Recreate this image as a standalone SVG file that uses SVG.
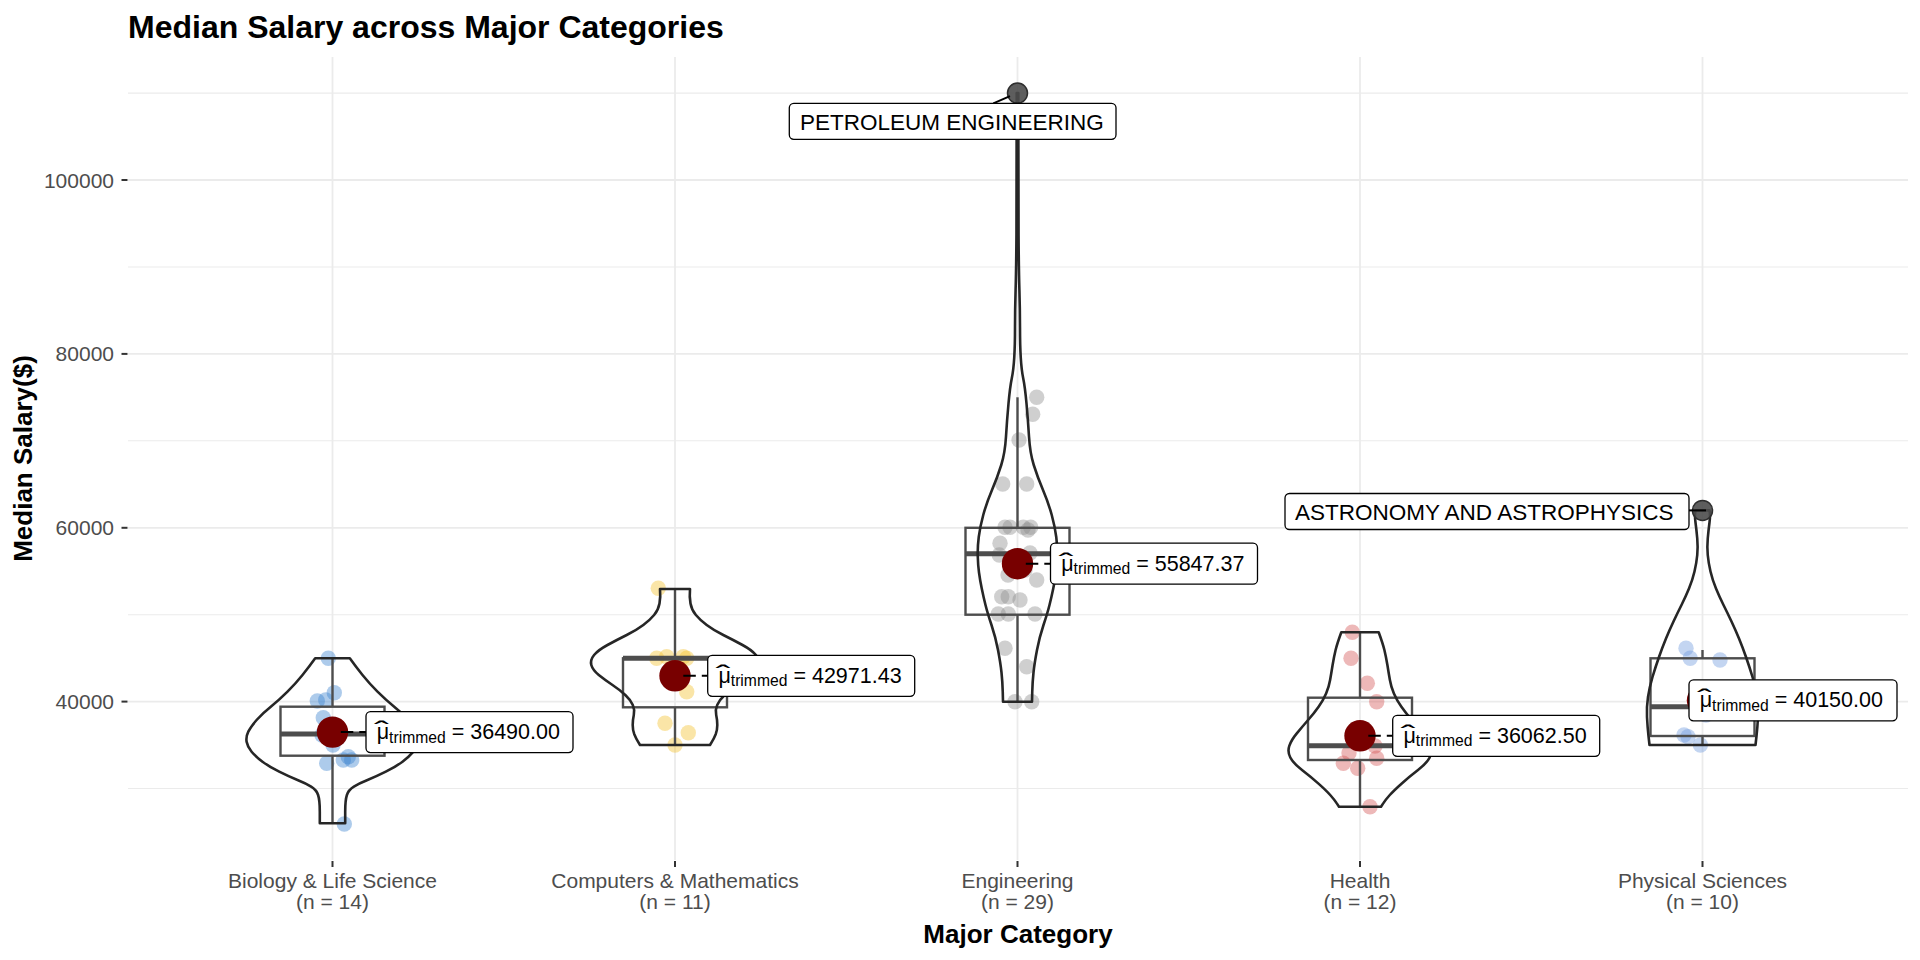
<svg xmlns="http://www.w3.org/2000/svg" width="1920" height="960" viewBox="0 0 1920 960">
<style>
.bg{fill:#ffffff}
.gmaj{stroke:#ebebeb;stroke-width:1.8;fill:none}
.gmin{stroke:#ebebeb;stroke-width:1.1;fill:none}
.tick{stroke:#333333;stroke-width:2}
.axt{font-family:"Liberation Sans",Arial,sans-serif;font-size:21px;fill:#4d4d4d}
.ttl{font-family:"Liberation Sans",Arial,sans-serif;font-weight:bold;fill:#000000}
.violin{fill:none;stroke:#262626;stroke-width:2.6;stroke-linejoin:round}
.box{fill:none;stroke:#4d4d4d;stroke-width:2.4}
.med{stroke:#4d4d4d;stroke-width:5}
.wh{stroke:#4d4d4d;stroke-width:2.4}
.mean{fill:#780000}
.outl{fill:#4d4d4d;fill-opacity:0.9;stroke:#2e2e2e;stroke-width:1.5}
.p-bio{fill:#3b82d0;fill-opacity:0.42}
.p-cmp{fill:#f2c12e;fill-opacity:0.42}
.p-eng{fill:#8c8c8c;fill-opacity:0.42}
.p-hea{fill:#d45656;fill-opacity:0.42}
.p-phy{fill:#6f9bde;fill-opacity:0.42}
.dash{stroke:#000000;stroke-width:2;stroke-dasharray:12.5 6;fill:none}
.seg{stroke:#000000;stroke-width:2;fill:none}
.lbox{fill:#ffffff;stroke:#000000;stroke-width:1.3}
.lbl{font-family:"Liberation Sans",Arial,sans-serif;font-size:21.5px;fill:#000000}
.sub{font-size:15.7px}
.hat{font-family:"Liberation Sans",Arial,sans-serif;font-size:26px;fill:#000000;text-anchor:middle}
.rl{font-family:"Liberation Sans",Arial,sans-serif;font-size:22.5px;fill:#000000}
</style>
<defs>
<circle id="pt" r="7.7"/>
</defs>
<rect class="bg" x="0" y="0" width="1920" height="960"/>

<g id="title">
<text class="ttl" x="128" y="37.5" font-size="32">Median Salary across Major Categories</text>
</g>

<g id="grid">
<line class="gmin" x1="128" y1="93.1" x2="1908" y2="93.1"/>
<line class="gmin" x1="128" y1="267" x2="1908" y2="267"/>
<line class="gmin" x1="128" y1="440.8" x2="1908" y2="440.8"/>
<line class="gmin" x1="128" y1="614.7" x2="1908" y2="614.7"/>
<line class="gmin" x1="128" y1="788.5" x2="1908" y2="788.5"/>
<line class="gmaj" x1="128" y1="180" x2="1908" y2="180"/>
<line class="gmaj" x1="128" y1="353.9" x2="1908" y2="353.9"/>
<line class="gmaj" x1="128" y1="527.8" x2="1908" y2="527.8"/>
<line class="gmaj" x1="128" y1="701.6" x2="1908" y2="701.6"/>
<line class="gmaj" x1="332.5" y1="57" x2="332.5" y2="860"/>
<line class="gmaj" x1="675" y1="57" x2="675" y2="860"/>
<line class="gmaj" x1="1017.5" y1="57" x2="1017.5" y2="860"/>
<line class="gmaj" x1="1360" y1="57" x2="1360" y2="860"/>
<line class="gmaj" x1="1702.5" y1="57" x2="1702.5" y2="860"/>
</g>

<g id="y-axis">
<line class="tick" x1="121.5" y1="180" x2="127.5" y2="180"/>
<line class="tick" x1="121.5" y1="353.9" x2="127.5" y2="353.9"/>
<line class="tick" x1="121.5" y1="527.8" x2="127.5" y2="527.8"/>
<line class="tick" x1="121.5" y1="701.6" x2="127.5" y2="701.6"/>
<text class="axt" x="114" y="187.5" text-anchor="end">100000</text>
<text class="axt" x="114" y="361.4" text-anchor="end">80000</text>
<text class="axt" x="114" y="535.3" text-anchor="end">60000</text>
<text class="axt" x="114" y="709.1" text-anchor="end">40000</text>
<text class="ttl" font-size="26" text-anchor="middle" transform="translate(32,458.5) rotate(-90)">Median Salary($)</text>
</g>

<g id="x-axis">
<line class="tick" x1="332.5" y1="861" x2="332.5" y2="867"/>
<line class="tick" x1="675" y1="861" x2="675" y2="867"/>
<line class="tick" x1="1017.5" y1="861" x2="1017.5" y2="867"/>
<line class="tick" x1="1360" y1="861" x2="1360" y2="867"/>
<line class="tick" x1="1702.5" y1="861" x2="1702.5" y2="867"/>
<text class="axt" text-anchor="middle" x="332.5" y="888.3">Biology &amp; Life Science</text>
<text class="axt" text-anchor="middle" x="332.5" y="908.5">(n = 14)</text>
<text class="axt" text-anchor="middle" x="675" y="888.3">Computers &amp; Mathematics</text>
<text class="axt" text-anchor="middle" x="675" y="908.5">(n = 11)</text>
<text class="axt" text-anchor="middle" x="1017.5" y="888.3">Engineering</text>
<text class="axt" text-anchor="middle" x="1017.5" y="908.5">(n = 29)</text>
<text class="axt" text-anchor="middle" x="1360" y="888.3">Health</text>
<text class="axt" text-anchor="middle" x="1360" y="908.5">(n = 12)</text>
<text class="axt" text-anchor="middle" x="1702.5" y="888.3">Physical Sciences</text>
<text class="axt" text-anchor="middle" x="1702.5" y="908.5">(n = 10)</text>
<text class="ttl" font-size="26" text-anchor="middle" x="1018" y="943">Major Category</text>
</g>

<g id="cat-biology">
<g class="p-bio">
<use href="#pt" x="328.3" y="658.3"/><use href="#pt" x="334.3" y="692.7"/><use href="#pt" x="317.3" y="701"/><use href="#pt" x="325.7" y="700"/>
<use href="#pt" x="323.3" y="717.7"/><use href="#pt" x="326.7" y="763.3"/><use href="#pt" x="343.3" y="760"/><use href="#pt" x="351.7" y="760"/>
<use href="#pt" x="348.3" y="756.7"/><use href="#pt" x="344.3" y="824"/><use href="#pt" x="333" y="745"/><use href="#pt" x="329" y="728"/>
<use href="#pt" x="338" y="738"/><use href="#pt" x="322" y="735"/>
</g>
<line class="wh" x1="332.5" y1="658.3" x2="332.5" y2="706.7"/>
<line class="wh" x1="332.5" y1="755.7" x2="332.5" y2="823.3"/>
<rect class="box" x="280.5" y="706.7" width="104" height="49"/>
<line class="med" x1="280.5" y1="734" x2="384.5" y2="734"/>
<path class="violin" transform="translate(332.5,0)" d="M-17.3,658.3 Q-23.3,666.7 -30,675 Q-36.7,683.3 -45,691.7 Q-53.3,700 -61.7,706.7 Q-70,713.3 -75.9,720 Q-81.7,726.7 -84.2,731.7 Q-86.7,736.7 -85.9,741.7 Q-85,746.7 -80.9,751.7 Q-76.7,756.7 -70,761.7 Q-63.3,766.7 -53.3,771.7 Q-43.3,776.7 -35,780 Q-26.7,783.3 -21.4,786.7 Q-16,790 -14.4,795 Q-12.7,800 -12.7,811.7 L-12.7,823.3 L12.7,823.3 L12.7,811.7 Q12.7,800 14.4,795 Q16,790 21.4,786.7 Q26.7,783.3 35,780 Q43.3,776.7 53.3,771.7 Q63.3,766.7 70,761.7 Q76.7,756.7 80.9,751.7 Q85,746.7 85.9,741.7 Q86.7,736.7 84.2,731.7 Q81.7,726.7 75.9,720 Q70,713.3 61.7,706.7 Q53.3,700 45,691.7 Q36.7,683.3 30,675 Q23.3,666.7 17.3,658.3 Z"/>
<circle class="mean" cx="332.5" cy="732.1" r="15.7"/>
</g>

<g id="cat-computers">
<g class="p-cmp">
<use href="#pt" x="658.3" y="588.3"/><use href="#pt" x="656.7" y="658.3"/><use href="#pt" x="666.7" y="656.7"/><use href="#pt" x="683.3" y="656.7"/>
<use href="#pt" x="686.7" y="658.3"/><use href="#pt" x="686.7" y="691.7"/><use href="#pt" x="665" y="723.3"/><use href="#pt" x="688.3" y="732.7"/>
<use href="#pt" x="675" y="745"/><use href="#pt" x="672" y="670"/><use href="#pt" x="680" y="682"/>
</g>
<line class="wh" x1="675" y1="589" x2="675" y2="658.3"/>
<line class="wh" x1="675" y1="707.3" x2="675" y2="745"/>
<rect class="box" x="623" y="658.3" width="104" height="49"/>
<line class="med" x1="623" y1="658.3" x2="727" y2="658.3"/>
<path class="violin" transform="translate(675,0)" d="M-15,589 Q-14.3,596.7 -15.5,603.4 Q-16.7,610 -20.9,615 Q-25,620 -31.7,625 Q-38.3,630 -48.3,635 Q-58.3,640 -67.5,645 Q-76.7,650 -80.9,655 Q-85,660 -83.7,665 Q-82.3,670 -76.2,675 Q-70,680 -62.5,685 Q-55,690 -49.7,695 Q-44.3,700 -42.2,705 Q-40,710 -41.2,715 Q-42.3,720 -42.3,725 Q-42.3,730 -40.7,734.2 Q-39,738.3 -37,741.7 L-35,745 L35,745 L37,741.7 Q39,738.3 40.7,734.2 Q42.3,730 42.3,725 Q42.3,720 41.2,715 Q40,710 42.2,705 Q44.3,700 49.7,695 Q55,690 62.5,685 Q70,680 76.2,675 Q82.3,670 83.7,665 Q85,660 80.9,655 Q76.7,650 67.5,645 Q58.3,640 48.3,635 Q38.3,630 31.7,625 Q25,620 20.9,615 Q16.7,610 15.5,603.4 Q14.3,596.7 15,589 Z"/>
<circle class="mean" cx="675" cy="675.8" r="15.7"/>
</g>

<g id="cat-engineering">
<g class="p-eng">
<use href="#pt" x="1036.7" y="397.3"/><use href="#pt" x="1032.7" y="414.3"/><use href="#pt" x="1019" y="440"/><use href="#pt" x="1002.7" y="484"/>
<use href="#pt" x="1026.7" y="484"/><use href="#pt" x="1005" y="527.3"/><use href="#pt" x="1010" y="527.3"/><use href="#pt" x="1023.3" y="527.3"/>
<use href="#pt" x="1030.7" y="527.3"/><use href="#pt" x="1000" y="543.3"/><use href="#pt" x="999.3" y="555"/><use href="#pt" x="1036.7" y="580"/>
<use href="#pt" x="1001.7" y="596.7"/><use href="#pt" x="1008.3" y="596.7"/><use href="#pt" x="998.3" y="614"/><use href="#pt" x="1008.3" y="614"/>
<use href="#pt" x="1035" y="614"/><use href="#pt" x="1005" y="648.3"/><use href="#pt" x="1026.7" y="666.7"/><use href="#pt" x="1015" y="701.7"/>
<use href="#pt" x="1031.7" y="701.7"/><use href="#pt" x="1012" y="560"/><use href="#pt" x="1025" y="570"/><use href="#pt" x="1030" y="553"/>
<use href="#pt" x="1008" y="575"/><use href="#pt" x="1020" y="600"/><use href="#pt" x="1028" y="530"/>
</g>
<line class="wh" x1="1017.5" y1="397.3" x2="1017.5" y2="527.8"/>
<line class="wh" x1="1017.5" y1="614.7" x2="1017.5" y2="701.6"/>
<rect class="box" x="965.5" y="527.8" width="104" height="86.9"/>
<line class="med" x1="965.5" y1="553.7" x2="1069.5" y2="553.7"/>
<path class="violin" transform="translate(1017.5,0)" d="M-0.8,93.1 Q-0.8,200 -1.05,235 Q-1.3,270 -1.9,290 Q-2.5,310 -2.5,327.5 Q-2.5,345 -3.25,357.5 Q-4,370 -5.75,378.5 Q-7.5,387 -9,403.5 Q-10.5,420 -11.5,436.5 Q-12.5,453 -16.25,465 Q-20,477 -25.5,490 Q-31,503 -34.25,515 Q-37.5,527 -38.75,537 Q-40,547 -39.75,556 Q-39.5,565 -38.5,572.5 Q-37.5,580 -35.75,588.5 Q-34,597 -32,605 Q-30,613 -26,625 Q-22,637 -19.5,650 Q-17,663 -16,672.5 Q-15,682 -14.75,691.9 L-14.5,701.7 L14.5,701.7 L14.75,691.9 Q15,682 16,672.5 Q17,663 19.5,650 Q22,637 26,625 Q30,613 32,605 Q34,597 35.75,588.5 Q37.5,580 38.5,572.5 Q39.5,565 39.75,556 Q40,547 38.75,537 Q37.5,527 34.25,515 Q31,503 25.5,490 Q20,477 16.25,465 Q12.5,453 11.5,436.5 Q10.5,420 9,403.5 Q7.5,387 5.75,378.5 Q4,370 3.25,357.5 Q2.5,345 2.5,327.5 Q2.5,310 1.9,290 Q1.3,270 1.05,235 Q0.8,200 0.8,93.1 Z"/>
<circle class="outl" cx="1017.5" cy="93.1" r="10"/>
<circle class="mean" cx="1017.5" cy="563.7" r="15.7"/>
</g>

<g id="cat-health">
<g class="p-hea">
<use href="#pt" x="1352.3" y="632.3"/><use href="#pt" x="1351" y="658.3"/><use href="#pt" x="1367.3" y="683.3"/><use href="#pt" x="1376.7" y="701.7"/>
<use href="#pt" x="1375" y="746"/><use href="#pt" x="1376.7" y="758.3"/><use href="#pt" x="1343.3" y="763.3"/><use href="#pt" x="1357.7" y="768.3"/>
<use href="#pt" x="1370" y="806.7"/><use href="#pt" x="1349" y="753"/><use href="#pt" x="1365" y="740"/><use href="#pt" x="1355" y="730"/>
</g>
<line class="wh" x1="1360" y1="632.3" x2="1360" y2="697.7"/>
<line class="wh" x1="1360" y1="760" x2="1360" y2="806.7"/>
<rect class="box" x="1308" y="697.7" width="104" height="62.3"/>
<line class="med" x1="1308" y1="745.7" x2="1412" y2="745.7"/>
<path class="violin" transform="translate(1360,0)" d="M-18.7,632.3 Q-22.7,643.3 -24.4,650 Q-26,656.7 -27.4,665 Q-28.7,673.3 -29.9,680 Q-31,686.7 -33.9,693.4 Q-36.7,700 -41.4,706.7 Q-46,713.3 -51.9,720 Q-57.7,726.7 -63.2,733.4 Q-68.7,740 -70.7,745.9 Q-72.7,751.7 -69.7,757.5 Q-66.7,763.3 -58,770 Q-49.3,776.7 -41.8,783.4 Q-34.3,790 -29.8,795 Q-25.3,800 -23.2,803.4 L-21,806.7 L21,806.7 L23.2,803.4 Q25.3,800 29.8,795 Q34.3,790 41.8,783.4 Q49.3,776.7 58,770 Q66.7,763.3 69.7,757.5 Q72.7,751.7 70.7,745.9 Q68.7,740 63.2,733.4 Q57.7,726.7 51.9,720 Q46,713.3 41.4,706.7 Q36.7,700 33.9,693.4 Q31,686.7 29.9,680 Q28.7,673.3 27.4,665 Q26,656.7 24.4,650 Q22.7,643.3 18.7,632.3 Z"/>
<circle class="mean" cx="1360" cy="735.8" r="15.7"/>
</g>

<g id="cat-physical">
<g class="p-phy">
<use href="#pt" x="1686" y="648.3"/><use href="#pt" x="1690.2" y="658.3"/><use href="#pt" x="1720" y="660"/><use href="#pt" x="1684" y="735"/>
<use href="#pt" x="1700.4" y="745"/><use href="#pt" x="1688" y="736.7"/><use href="#pt" x="1712" y="690"/><use href="#pt" x="1695" y="700"/>
<use href="#pt" x="1706" y="715"/>
</g>
<line class="wh" x1="1702.5" y1="650" x2="1702.5" y2="658.3"/>
<line class="wh" x1="1702.5" y1="736" x2="1702.5" y2="745"/>
<rect class="box" x="1650.5" y="658.3" width="104" height="77.7"/>
<line class="med" x1="1650.5" y1="706.7" x2="1754.5" y2="706.7"/>
<path class="violin" transform="translate(1702.5,0)" d="M-7,510.4 Q-8,515 -7,522.5 Q-6,530 -5.25,538.5 Q-4.5,547 -5.25,555 Q-6,563 -8,571.5 Q-10,580 -13.5,588.5 Q-17,597 -21,605 Q-25,613 -29,621.5 Q-33,630 -36.5,638.5 Q-40,647 -43.5,657 Q-47,667 -50,677 Q-53,687 -54.5,697 Q-56,707 -55.5,717 Q-55,727 -54,736 L-53,745 L53,745 L54,736 Q55,727 55.5,717 Q56,707 54.5,697 Q53,687 50,677 Q47,667 43.5,657 Q40,647 36.5,638.5 Q33,630 29,621.5 Q25,613 21,605 Q17,597 13.5,588.5 Q10,580 8,571.5 Q6,563 5.25,555 Q4.5,547 5.25,538.5 Q6,530 7,522.5 Q8,515 7,510.4 Z"/>
<circle class="outl" cx="1702.5" cy="510.4" r="10"/>
<circle class="mean" cx="1702.5" cy="700.3" r="15.7"/>
</g>

<g id="connectors">
<line class="dash" x1="340.8" y1="732.1" x2="366" y2="732.1"/>
<line class="dash" x1="683.3" y1="675.8" x2="707.7" y2="675.8"/>
<line class="dash" x1="1025.8" y1="563.7" x2="1050.5" y2="563.7"/>
<line class="dash" x1="1368.3" y1="735.8" x2="1392.7" y2="735.8"/>
<line class="seg" x1="993.3" y1="103.3" x2="1010" y2="96.2"/>
<line class="seg" x1="1689" y1="510.4" x2="1706" y2="510.4"/>
</g>

<g id="label-biology" transform="translate(366,711.6)">
<rect class="lbox" x="0" y="0" width="207" height="41" rx="4.5"/>
<text class="lbl" x="10.7" y="27.7">μ<tspan class="sub" dy="3.4">trimmed</tspan><tspan dy="-3.4"> = 36490.00</tspan></text>
<text class="hat" transform="translate(15.5,27.4) scale(1.7,1)">ˆ</text>
</g>
<g id="label-computers" transform="translate(707.7,655.3)">
<rect class="lbox" x="0" y="0" width="207" height="41" rx="4.5"/>
<text class="lbl" x="10.7" y="27.7">μ<tspan class="sub" dy="3.4">trimmed</tspan><tspan dy="-3.4"> = 42971.43</tspan></text>
<text class="hat" transform="translate(15.5,27.4) scale(1.7,1)">ˆ</text>
</g>
<g id="label-engineering" transform="translate(1050.5,543.2)">
<rect class="lbox" x="0" y="0" width="207" height="41" rx="4.5"/>
<text class="lbl" x="10.7" y="27.7">μ<tspan class="sub" dy="3.4">trimmed</tspan><tspan dy="-3.4"> = 55847.37</tspan></text>
<text class="hat" transform="translate(15.5,27.4) scale(1.7,1)">ˆ</text>
</g>
<g id="label-health" transform="translate(1392.7,715.3)">
<rect class="lbox" x="0" y="0" width="207" height="41" rx="4.5"/>
<text class="lbl" x="10.7" y="27.7">μ<tspan class="sub" dy="3.4">trimmed</tspan><tspan dy="-3.4"> = 36062.50</tspan></text>
<text class="hat" transform="translate(15.5,27.4) scale(1.7,1)">ˆ</text>
</g>
<g id="label-physical" transform="translate(1689,679.8)">
<rect class="lbox" x="0" y="0" width="208" height="41" rx="4.5"/>
<text class="lbl" x="10.7" y="27.7">μ<tspan class="sub" dy="3.4">trimmed</tspan><tspan dy="-3.4"> = 40150.00</tspan></text>
<text class="hat" transform="translate(15.5,27.4) scale(1.7,1)">ˆ</text>
</g>
<g id="label-petroleum">
<rect class="lbox" x="789.3" y="103.3" width="326.7" height="36" rx="4.5"/>
<text class="rl" x="800" y="130">PETROLEUM ENGINEERING</text>
</g>
<g id="label-astronomy">
<rect class="lbox" x="1285" y="493.5" width="404" height="36" rx="4.5"/>
<text class="rl" x="1295" y="519.5">ASTRONOMY AND ASTROPHYSICS</text>
</g>
</svg>
